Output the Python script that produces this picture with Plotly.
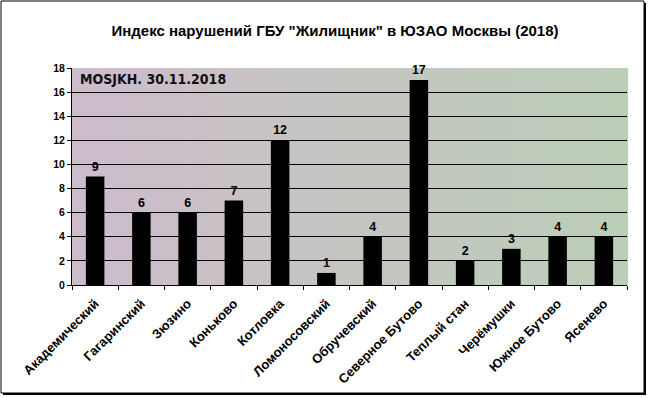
import plotly.graph_objects as go

categories = ["Академический", "Гагаринский", "Зюзино", "Коньково", "Котловка",
              "Ломоносовский", "Обручевский", "Северное Бутово", "Теплый стан",
              "Черёмушки", "Южное Бутово", "Ясенево"]
values = [9, 6, 6, 7, 12, 1, 4, 17, 2, 3, 4, 4]
y_ticks = [0, 2, 4, 6, 8, 10, 12, 14, 16, 18]
title_text = 'Индекс нарушений ГБУ "Жилищник" в ЮЗАО Москвы (2018)'
stamp_text = "MOSJKH. 30.11.2018"

W, H = 649, 398
L, R, T, B = 72, 627, 68, 285
pw, ph = R - L, B - T

def px(x):
    return (x - L) / pw

def py(y):
    return (B - y) / ph

fig = go.Figure()
fig.add_trace(go.Bar(
    x=categories, y=values, width=0.4,
    marker=dict(color="black", line=dict(width=0)),
    text=["<b>%d</b>" % v for v in values], textposition="outside",
    textfont=dict(family="Liberation Sans", size=12.5, color="black"),
    cliponaxis=False,
))

shapes = []
shapes.append(dict(type="rect", xref="paper", yref="paper",
                   x0=px(3), x1=px(646), y0=py(3), y1=py(395),
                   fillcolor="black", line=dict(width=0), layer="below"))
shapes.append(dict(type="rect", xref="paper", yref="paper",
                   x0=px(1), x1=px(644), y0=py(1), y1=py(393),
                   fillcolor="white", line=dict(color="black", width=1), layer="below"))
n = 40
c0 = (205, 188, 203)
c1 = (188, 206, 184)
for i in range(n):
    t = i / (n - 1)
    c = tuple(int(round(a + (b - a) * t)) for a, b in zip(c0, c1))
    shapes.append(dict(type="rect", xref="paper", yref="paper",
                       x0=i / n, x1=(i + 1) / n + 0.002, y0=0, y1=1,
                       fillcolor="rgb(%d,%d,%d)" % c, line=dict(width=0), layer="below"))

fig.update_layout(
    width=W, height=H,
    margin=dict(l=L, r=W - R, t=T, b=H - B, autoexpand=False),
    paper_bgcolor="white", plot_bgcolor="rgba(0,0,0,0)",
    showlegend=False,
    shapes=shapes,
    title=dict(text="<b>" + title_text + "</b>", x=px(335), xref="paper",
               xanchor="center", y=1 - 31 / H, yanchor="middle",
               font=dict(family="Liberation Sans", size=15, color="black")),
    font=dict(family="Liberation Sans", color="black"),
    xaxis=dict(
        type="category", showgrid=False, showline=True, linecolor="black", linewidth=1,
        ticks="outside", ticklen=4, tickcolor="black", tickson="boundaries",
        tickangle=-45, tickfont=dict(family="Liberation Sans", size=13, color="black", weight="bold"),
        ticklabelstandoff=5,
        automargin=False, range=[-0.5, len(categories) - 0.5],
    ),
    yaxis=dict(
        range=[0, 18], tickvals=y_ticks, showgrid=True, gridcolor="black", gridwidth=1,
        showline=True, linecolor="black", linewidth=1, zeroline=False,
        ticks="outside", ticklen=4, tickcolor="black",
        tickfont=dict(family="Liberation Sans", size=10.5, color="black", weight="bold"),
        automargin=False,
    ),
    annotations=[dict(
        text=stamp_text, xref="paper", yref="paper",
        x=px(78), y=py(79), xanchor="left", yanchor="middle", showarrow=False,
        font=dict(family="DejaVu Sans Condensed", size=14, color="#111111", weight="bold"),
    )],
)

fig.write_html("out.html", config={"displayModeBar": False},
               post_script="document.body.style.margin='0';")
